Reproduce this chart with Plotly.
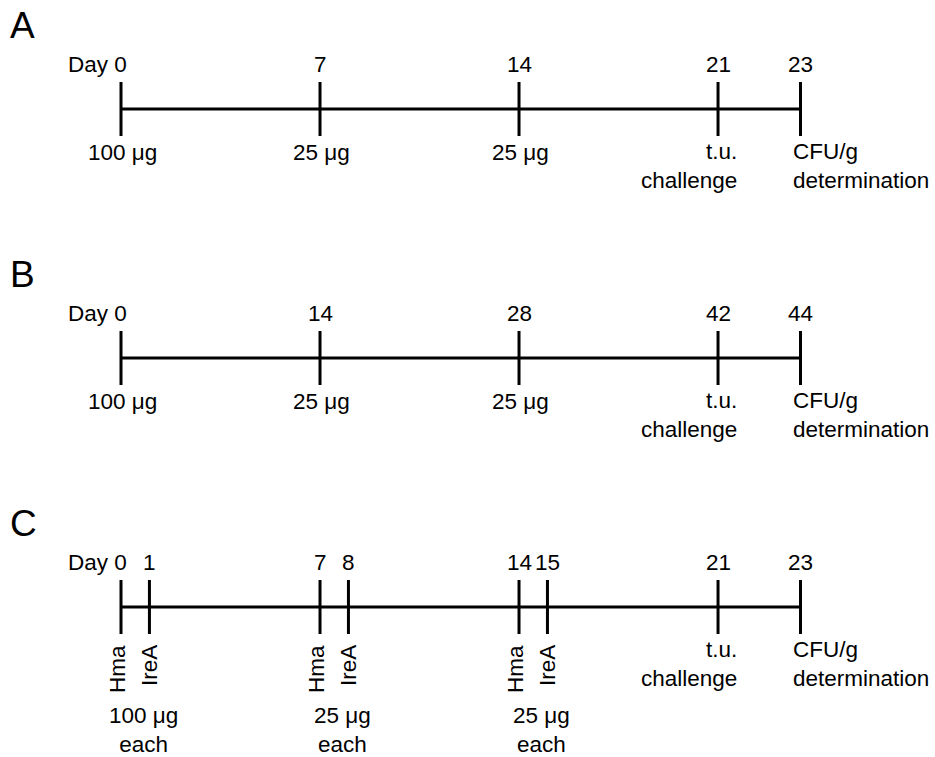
import plotly.graph_objects as go

# ---- schedule data -------------------------------------------------------
panel_names = ["A", "B", "C"]

a_days = [0, 7, 14, 21, 23]
a_doses = ["100 μg", "25 μg", "25 μg"]

b_days = [0, 14, 28, 42, 44]
b_doses = ["100 μg", "25 μg", "25 μg"]

c_days = [0, 1, 7, 8, 14, 15, 21, 23]
c_antigens = ["Hma", "IreA", "Hma", "IreA", "Hma", "IreA"]
c_doses = ["100 μg<br>each", "25 μg<br>each", "25 μg<br>each"]

challenge_label = "t.u.<br>challenge"
readout_label = "CFU/g<br>determination"

# ---- layout constants ----------------------------------------------------
W, H = 935, 757
PX_PER_UNIT = 28.43          # horizontal pixels per timeline unit
X0_PX = 121                  # pixel position of day 0
READOUT_GAP = 2.9            # drawn distance between challenge and readout
LINE_Y = [109, 358, 607]     # baseline of each timeline (pixels from top)
TICK_HALF = 27
FONT = "Liberation Sans, Arial, Helvetica, sans-serif"
FS = 22.5
INK = "black"


def positions(days, scale):
    """Timeline positions: days are scaled, the readout sits after a fixed gap."""
    pos = [d * scale for d in days[:-1]]
    pos.append(pos[-1] + READOUT_GAP)
    return pos


panels = [
    dict(days=a_days, scale=1.0),
    dict(days=b_days, scale=0.5),
    dict(days=c_days, scale=1.0),
]

fig = go.Figure()
annotations = []

for i, (name, p) in enumerate(zip(panel_names, panels)):
    y0 = LINE_Y[i]
    days = p["days"]
    pos = positions(days, p["scale"])

    # main timeline
    fig.add_trace(go.Scatter(
        x=[pos[0], pos[-1]], y=[y0, y0], mode="lines",
        line=dict(color=INK, width=3), hoverinfo="skip", showlegend=False))

    # vertical ticks at every event
    tx, ty = [], []
    for x in pos:
        tx += [x, x, None]
        ty += [y0 - TICK_HALF, y0 + TICK_HALF, None]
    fig.add_trace(go.Scatter(
        x=tx, y=ty, mode="lines", line=dict(color=INK, width=3),
        hoverinfo="skip", showlegend=False))

    # panel letter
    annotations.append(dict(
        text=name, x=8 / W, xref="paper", y=y0 - 84, yref="y",
        xanchor="left", yanchor="middle", showarrow=False,
        font=dict(family=FONT, size=37, color=INK)))

    # day numbers above ticks
    for k, (d, x) in enumerate(zip(days, pos)):
        if k == 0:
            annotations.append(dict(
                text=f"Day {d}", x=x, y=y0 - 45, xanchor="right", xshift=7,
                yanchor="middle", showarrow=False, borderpad=0,
                font=dict(family=FONT, size=FS, color=INK)))
        else:
            annotations.append(dict(
                text=str(d), x=x, y=y0 - 45, xanchor="center",
                yanchor="middle", showarrow=False, borderpad=0,
                font=dict(family=FONT, size=FS, color=INK)))

    # challenge and readout labels
    annotations.append(dict(
        text=challenge_label, x=pos[-2], y=y0 + 57, xanchor="right",
        xshift=20, align="right", yanchor="middle", showarrow=False,
        borderpad=0, font=dict(family=FONT, size=FS, color=INK)))
    annotations.append(dict(
        text=readout_label, x=pos[-1], y=y0 + 57, xanchor="left",
        xshift=-8, align="left", yanchor="middle", showarrow=False,
        borderpad=0, font=dict(family=FONT, size=FS, color=INK)))

    # dose labels
    if name in ("A", "B"):
        doses = a_doses if name == "A" else b_doses
        for dose, x in zip(doses, pos[:3]):
            annotations.append(dict(
                text=dose, x=x, y=y0 + 43, xanchor="center", xshift=1,
                yanchor="middle", showarrow=False, borderpad=0,
                font=dict(family=FONT, size=FS, color=INK)))
    else:
        for k, (ag, x) in enumerate(zip(c_antigens, pos[:6])):
            annotations.append(dict(
                text=ag, x=x, y=y0 + 37, xanchor="center",
                xshift=-4 if ag == "Hma" else 0,
                yanchor="top", textangle=-90, showarrow=False, borderpad=0,
                font=dict(family=FONT, size=FS, color=INK)))
        for j, dose in enumerate(c_doses):
            mid = (pos[2 * j] + pos[2 * j + 1]) / 2
            annotations.append(dict(
                text=dose, x=mid, y=y0 + 123, xanchor="center", xshift=8,
                align="center", yanchor="middle", showarrow=False,
                borderpad=0, font=dict(family=FONT, size=FS, color=INK)))

fig.update_layout(
    width=W, height=H,
    margin=dict(l=0, r=0, t=0, b=0),
    paper_bgcolor="white", plot_bgcolor="white",
    xaxis=dict(range=[-X0_PX / PX_PER_UNIT, (W - X0_PX) / PX_PER_UNIT],
               visible=False, fixedrange=True),
    yaxis=dict(range=[H, 0], visible=False, fixedrange=True),
    annotations=annotations,
    showlegend=False,
)

fig.write_html("out.html")
